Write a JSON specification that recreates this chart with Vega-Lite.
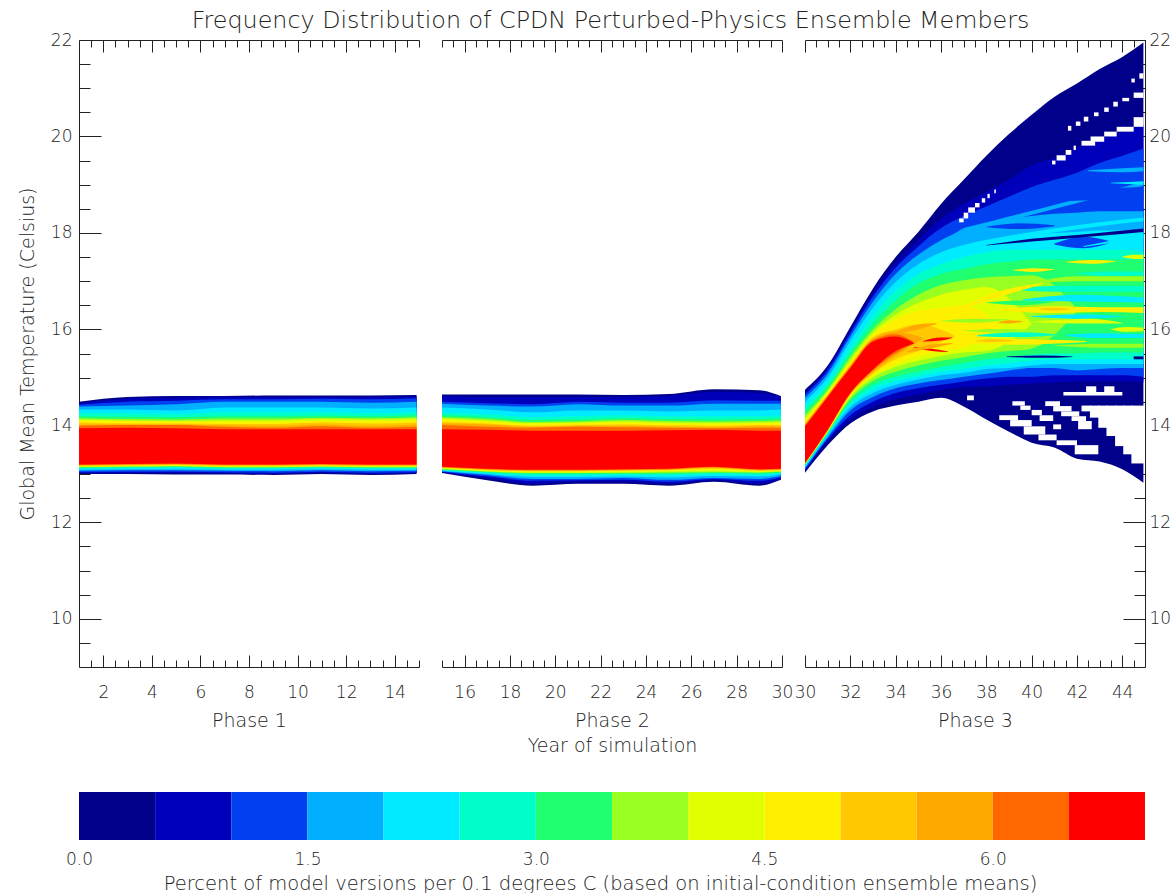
{
"$schema":"https://vega.github.io/schema/vega-lite/v6.json",
"padding":{"left":18,"top":9,"right":0,"bottom":0},
"background":"white",
"title":{"text":"Frequency Distribution of CPDN Perturbed-Physics Ensemble Members","fontSize":23.8,"font":"DejaVu Sans","fontWeight":200,"color":"#222","anchor":"middle","offset":-2,"dx":16},
"config":{"view":{"stroke":null},"axis":{"grid":false,"labelFont":"DejaVu Sans","labelFontSize":17,"labelFontWeight":200,"labelColor":"#222","titleFont":"DejaVu Sans","titleFontSize":19,"titleFontWeight":200,"titleColor":"#222","domainColor":"#222","tickColor":"#222","domainWidth":1,"tickWidth":1,"labelOverlap":false,"labelBound":false,"labelFlush":false}},
"datasets":{
"colors":[{"level":0,"next":0.5},{"level":0.5,"next":1},{"level":1,"next":1.5},{"level":1.5,"next":2},{"level":2,"next":2.5},{"level":2.5,"next":3},{"level":3,"next":3.5},{"level":3.5,"next":4},{"level":4,"next":4.5},{"level":4.5,"next":5},{"level":5,"next":5.5},{"level":5.5,"next":6},{"level":6,"next":6.5},{"level":6.5,"next":7}],
"phase1":[
{"level":0,"year":1,"lo":13.0,"hi":14.5},{"level":0,"year":3,"lo":13.0,"hi":14.6},{"level":0,"year":5,"lo":12.99,"hi":14.62},{"level":0,"year":7,"lo":12.99,"hi":14.62},{"level":0,"year":9,"lo":12.98,"hi":14.63},{"level":0,"year":11,"lo":13.0,"hi":14.63},{"level":0,"year":13,"lo":12.98,"hi":14.63},{"level":0,"year":14.9,"lo":13.0,"hi":14.64},
{"level":0.5,"year":1,"lo":13.02,"hi":14.46},{"level":0.5,"year":3,"lo":13.02,"hi":14.56},{"level":0.5,"year":5,"lo":13.02,"hi":14.58},{"level":0.5,"year":7,"lo":13.01,"hi":14.6},{"level":0.5,"year":9,"lo":13.0,"hi":14.6},{"level":0.5,"year":11,"lo":13.02,"hi":14.6},{"level":0.5,"year":13,"lo":13.0,"hi":14.6},{"level":0.5,"year":14.9,"lo":13.02,"hi":14.61},
{"level":1,"year":1,"lo":13.04,"hi":14.44},{"level":1,"year":3,"lo":13.05,"hi":14.5},{"level":1,"year":5,"lo":13.05,"hi":14.52},{"level":1,"year":7,"lo":13.04,"hi":14.55},{"level":1,"year":9,"lo":13.03,"hi":14.55},{"level":1,"year":11,"lo":13.05,"hi":14.56},{"level":1,"year":13,"lo":13.03,"hi":14.55},{"level":1,"year":14.9,"lo":13.04,"hi":14.57},
{"level":1.5,"year":1,"lo":13.07,"hi":14.4},{"level":1.5,"year":3,"lo":13.08,"hi":14.42},{"level":1.5,"year":5,"lo":13.08,"hi":14.45},{"level":1.5,"year":7,"lo":13.07,"hi":14.5},{"level":1.5,"year":9,"lo":13.06,"hi":14.5},{"level":1.5,"year":11,"lo":13.08,"hi":14.5},{"level":1.5,"year":13,"lo":13.06,"hi":14.48},{"level":1.5,"year":14.9,"lo":13.07,"hi":14.5},
{"level":2,"year":1,"lo":13.09,"hi":14.34},{"level":2,"year":3,"lo":13.1,"hi":14.34},{"level":2,"year":5,"lo":13.1,"hi":14.32},{"level":2,"year":7,"lo":13.09,"hi":14.38},{"level":2,"year":9,"lo":13.09,"hi":14.38},{"level":2,"year":11,"lo":13.1,"hi":14.38},{"level":2,"year":13,"lo":13.09,"hi":14.36},{"level":2,"year":14.9,"lo":13.09,"hi":14.38},
{"level":2.5,"year":1,"lo":13.11,"hi":14.26},{"level":2.5,"year":3,"lo":13.12,"hi":14.26},{"level":2.5,"year":5,"lo":13.13,"hi":14.24},{"level":2.5,"year":7,"lo":13.11,"hi":14.28},{"level":2.5,"year":9,"lo":13.11,"hi":14.28},{"level":2.5,"year":11,"lo":13.12,"hi":14.28},{"level":2.5,"year":13,"lo":13.11,"hi":14.26},{"level":2.5,"year":14.9,"lo":13.11,"hi":14.28},
{"level":3,"year":1,"lo":13.13,"hi":14.2},{"level":3,"year":3,"lo":13.14,"hi":14.19},{"level":3,"year":5,"lo":13.15,"hi":14.18},{"level":3,"year":7,"lo":13.13,"hi":14.2},{"level":3,"year":9,"lo":13.13,"hi":14.2},{"level":3,"year":11,"lo":13.14,"hi":14.21},{"level":3,"year":13,"lo":13.13,"hi":14.2},{"level":3,"year":14.9,"lo":13.13,"hi":14.22},
{"level":3.5,"year":1,"lo":13.14,"hi":14.16},{"level":3.5,"year":3,"lo":13.15,"hi":14.14},{"level":3.5,"year":5,"lo":13.16,"hi":14.13},{"level":3.5,"year":7,"lo":13.14,"hi":14.15},{"level":3.5,"year":9,"lo":13.14,"hi":14.15},{"level":3.5,"year":11,"lo":13.15,"hi":14.17},{"level":3.5,"year":13,"lo":13.14,"hi":14.16},{"level":3.5,"year":14.9,"lo":13.14,"hi":14.18},
{"level":4,"year":1,"lo":13.15,"hi":14.13},{"level":4,"year":3,"lo":13.16,"hi":14.11},{"level":4,"year":5,"lo":13.17,"hi":14.1},{"level":4,"year":7,"lo":13.15,"hi":14.11},{"level":4,"year":9,"lo":13.15,"hi":14.11},{"level":4,"year":11,"lo":13.16,"hi":14.14},{"level":4,"year":13,"lo":13.15,"hi":14.13},{"level":4,"year":14.9,"lo":13.15,"hi":14.15},
{"level":4.5,"year":1,"lo":13.16,"hi":14.1},{"level":4.5,"year":3,"lo":13.17,"hi":14.09},{"level":4.5,"year":5,"lo":13.18,"hi":14.08},{"level":4.5,"year":7,"lo":13.16,"hi":14.08},{"level":4.5,"year":9,"lo":13.16,"hi":14.07},{"level":4.5,"year":11,"lo":13.17,"hi":14.1},{"level":4.5,"year":13,"lo":13.16,"hi":14.09},{"level":4.5,"year":14.9,"lo":13.16,"hi":14.11},
{"level":5,"year":1,"lo":13.17,"hi":14.07},{"level":5,"year":3,"lo":13.18,"hi":14.05},{"level":5,"year":5,"lo":13.19,"hi":14.05},{"level":5,"year":7,"lo":13.17,"hi":14.04},{"level":5,"year":9,"lo":13.17,"hi":14.04},{"level":5,"year":11,"lo":13.18,"hi":14.07},{"level":5,"year":13,"lo":13.17,"hi":14.05},{"level":5,"year":14.9,"lo":13.17,"hi":14.07},
{"level":5.5,"year":1,"lo":13.18,"hi":14.03},{"level":5.5,"year":3,"lo":13.19,"hi":14.03},{"level":5.5,"year":5,"lo":13.2,"hi":14.03},{"level":5.5,"year":7,"lo":13.18,"hi":14.01},{"level":5.5,"year":9,"lo":13.18,"hi":14.0},{"level":5.5,"year":11,"lo":13.19,"hi":14.03},{"level":5.5,"year":13,"lo":13.18,"hi":14.0},{"level":5.5,"year":14.9,"lo":13.18,"hi":14.03},
{"level":6,"year":1,"lo":13.19,"hi":14.0},{"level":6,"year":3,"lo":13.2,"hi":14.02},{"level":6,"year":5,"lo":13.21,"hi":14.02},{"level":6,"year":7,"lo":13.19,"hi":13.98},{"level":6,"year":9,"lo":13.19,"hi":13.96},{"level":6,"year":11,"lo":13.2,"hi":13.99},{"level":6,"year":13,"lo":13.19,"hi":13.96},{"level":6,"year":14.9,"lo":13.19,"hi":13.98},
{"level":6.5,"year":1,"lo":13.2,"hi":13.95},{"level":6.5,"year":3,"lo":13.21,"hi":13.96},{"level":6.5,"year":5,"lo":13.22,"hi":13.95},{"level":6.5,"year":7,"lo":13.2,"hi":13.93},{"level":6.5,"year":9,"lo":13.2,"hi":13.93},{"level":6.5,"year":11,"lo":13.21,"hi":13.93},{"level":6.5,"year":13,"lo":13.2,"hi":13.93},{"level":6.5,"year":14.9,"lo":13.2,"hi":13.93}
],
"phase2":[
{"level":0,"year":15,"lo":13.02,"hi":14.65},{"level":0,"year":17,"lo":12.87,"hi":14.65},{"level":0,"year":19,"lo":12.76,"hi":14.65},{"level":0,"year":21,"lo":12.8,"hi":14.65},{"level":0,"year":23,"lo":12.8,"hi":14.64},{"level":0,"year":25,"lo":12.76,"hi":14.66},{"level":0,"year":27,"lo":12.84,"hi":14.76},{"level":0,"year":29,"lo":12.76,"hi":14.74},{"level":0,"year":29.95,"lo":12.88,"hi":14.62},
{"level":0.5,"year":15,"lo":13.04,"hi":14.62},{"level":0.5,"year":17,"lo":12.92,"hi":14.6},{"level":0.5,"year":19,"lo":12.8,"hi":14.6},{"level":0.5,"year":21,"lo":12.84,"hi":14.6},{"level":0.5,"year":23,"lo":12.84,"hi":14.6},{"level":0.5,"year":25,"lo":12.8,"hi":14.62},{"level":0.5,"year":27,"lo":12.87,"hi":14.7},{"level":0.5,"year":29,"lo":12.8,"hi":14.68},{"level":0.5,"year":29.95,"lo":12.9,"hi":14.6},
{"level":1,"year":15,"lo":13.05,"hi":14.5},{"level":1,"year":17,"lo":12.95,"hi":14.47},{"level":1,"year":19,"lo":12.86,"hi":14.45},{"level":1,"year":21,"lo":12.87,"hi":14.5},{"level":1,"year":23,"lo":12.88,"hi":14.48},{"level":1,"year":25,"lo":12.84,"hi":14.48},{"level":1,"year":27,"lo":12.9,"hi":14.53},{"level":1,"year":29,"lo":12.86,"hi":14.52},{"level":1,"year":29.95,"lo":12.93,"hi":14.52},
{"level":1.5,"year":15,"lo":13.06,"hi":14.46},{"level":1.5,"year":17,"lo":12.98,"hi":14.42},{"level":1.5,"year":19,"lo":12.9,"hi":14.4},{"level":1.5,"year":21,"lo":12.9,"hi":14.45},{"level":1.5,"year":23,"lo":12.92,"hi":14.42},{"level":1.5,"year":25,"lo":12.88,"hi":14.42},{"level":1.5,"year":27,"lo":12.92,"hi":14.46},{"level":1.5,"year":29,"lo":12.9,"hi":14.46},{"level":1.5,"year":29.95,"lo":12.96,"hi":14.46},
{"level":2,"year":15,"lo":13.07,"hi":14.38},{"level":2,"year":17,"lo":13.0,"hi":14.34},{"level":2,"year":19,"lo":12.94,"hi":14.28},{"level":2,"year":21,"lo":12.94,"hi":14.32},{"level":2,"year":23,"lo":12.95,"hi":14.32},{"level":2,"year":25,"lo":12.93,"hi":14.3},{"level":2,"year":27,"lo":12.96,"hi":14.32},{"level":2,"year":29,"lo":12.95,"hi":14.32},{"level":2,"year":29.95,"lo":12.99,"hi":14.34},
{"level":2.5,"year":15,"lo":13.08,"hi":14.27},{"level":2.5,"year":17,"lo":13.02,"hi":14.24},{"level":2.5,"year":19,"lo":12.97,"hi":14.18},{"level":2.5,"year":21,"lo":12.97,"hi":14.2},{"level":2.5,"year":23,"lo":12.98,"hi":14.22},{"level":2.5,"year":25,"lo":12.97,"hi":14.2},{"level":2.5,"year":27,"lo":12.99,"hi":14.2},{"level":2.5,"year":29,"lo":12.98,"hi":14.2},{"level":2.5,"year":29.95,"lo":13.01,"hi":14.22},
{"level":3,"year":15,"lo":13.09,"hi":14.22},{"level":3,"year":17,"lo":13.04,"hi":14.18},{"level":3,"year":19,"lo":13.0,"hi":14.12},{"level":3,"year":21,"lo":13.0,"hi":14.13},{"level":3,"year":23,"lo":13.0,"hi":14.16},{"level":3,"year":25,"lo":13.0,"hi":14.14},{"level":3,"year":27,"lo":13.02,"hi":14.13},{"level":3,"year":29,"lo":13.01,"hi":14.14},{"level":3,"year":29.95,"lo":13.03,"hi":14.15},
{"level":3.5,"year":15,"lo":13.1,"hi":14.18},{"level":3.5,"year":17,"lo":13.05,"hi":14.14},{"level":3.5,"year":19,"lo":13.02,"hi":14.08},{"level":3.5,"year":21,"lo":13.02,"hi":14.09},{"level":3.5,"year":23,"lo":13.02,"hi":14.12},{"level":3.5,"year":25,"lo":13.03,"hi":14.1},{"level":3.5,"year":27,"lo":13.04,"hi":14.09},{"level":3.5,"year":29,"lo":13.03,"hi":14.1},{"level":3.5,"year":29.95,"lo":13.05,"hi":14.11},
{"level":4,"year":15,"lo":13.11,"hi":14.15},{"level":4,"year":17,"lo":13.06,"hi":14.11},{"level":4,"year":19,"lo":13.03,"hi":14.06},{"level":4,"year":21,"lo":13.03,"hi":14.07},{"level":4,"year":23,"lo":13.04,"hi":14.09},{"level":4,"year":25,"lo":13.05,"hi":14.07},{"level":4,"year":27,"lo":13.06,"hi":14.06},{"level":4,"year":29,"lo":13.04,"hi":14.07},{"level":4,"year":29.95,"lo":13.06,"hi":14.08},
{"level":4.5,"year":15,"lo":13.12,"hi":14.12},{"level":4.5,"year":17,"lo":13.07,"hi":14.08},{"level":4.5,"year":19,"lo":13.05,"hi":14.03},{"level":4.5,"year":21,"lo":13.05,"hi":14.05},{"level":4.5,"year":23,"lo":13.06,"hi":14.06},{"level":4.5,"year":25,"lo":13.07,"hi":14.04},{"level":4.5,"year":27,"lo":13.09,"hi":14.03},{"level":4.5,"year":29,"lo":13.06,"hi":14.05},{"level":4.5,"year":29.95,"lo":13.07,"hi":14.05},
{"level":5,"year":15,"lo":13.13,"hi":14.08},{"level":5,"year":17,"lo":13.08,"hi":14.05},{"level":5,"year":19,"lo":13.06,"hi":14.0},{"level":5,"year":21,"lo":13.06,"hi":14.02},{"level":5,"year":23,"lo":13.07,"hi":14.03},{"level":5,"year":25,"lo":13.08,"hi":14.01},{"level":5,"year":27,"lo":13.11,"hi":14.0},{"level":5,"year":29,"lo":13.07,"hi":14.02},{"level":5,"year":29.95,"lo":13.08,"hi":14.02},
{"level":5.5,"year":15,"lo":13.14,"hi":14.05},{"level":5.5,"year":17,"lo":13.09,"hi":14.03},{"level":5.5,"year":19,"lo":13.07,"hi":13.98},{"level":5.5,"year":21,"lo":13.07,"hi":14.0},{"level":5.5,"year":23,"lo":13.08,"hi":14.0},{"level":5.5,"year":25,"lo":13.09,"hi":13.98},{"level":5.5,"year":27,"lo":13.13,"hi":13.97},{"level":5.5,"year":29,"lo":13.08,"hi":13.99},{"level":5.5,"year":29.95,"lo":13.09,"hi":13.99},
{"level":6,"year":15,"lo":13.14,"hi":14.02},{"level":6,"year":17,"lo":13.1,"hi":13.98},{"level":6,"year":19,"lo":13.08,"hi":13.96},{"level":6,"year":21,"lo":13.08,"hi":13.98},{"level":6,"year":23,"lo":13.09,"hi":13.97},{"level":6,"year":25,"lo":13.1,"hi":13.96},{"level":6,"year":27,"lo":13.14,"hi":13.95},{"level":6,"year":29,"lo":13.09,"hi":13.96},{"level":6,"year":29.95,"lo":13.1,"hi":13.96},
{"level":6.5,"year":15,"lo":13.15,"hi":13.93},{"level":6.5,"year":17,"lo":13.11,"hi":13.92},{"level":6.5,"year":19,"lo":13.09,"hi":13.9},{"level":6.5,"year":21,"lo":13.09,"hi":13.9},{"level":6.5,"year":23,"lo":13.1,"hi":13.9},{"level":6.5,"year":25,"lo":13.11,"hi":13.91},{"level":6.5,"year":27,"lo":13.15,"hi":13.92},{"level":6.5,"year":29,"lo":13.1,"hi":13.9},{"level":6.5,"year":29.95,"lo":13.11,"hi":13.9}
],
"phase3":[
{"level":0,"year":30,"lo":13.03,"hi":14.75},{"level":0,"year":31,"lo":13.6,"hi":15.25},{"level":0,"year":32,"lo":14.05,"hi":16.05},{"level":0,"year":33,"lo":14.3,"hi":16.85},{"level":0,"year":34,"lo":14.42,"hi":17.5},{"level":0,"year":35,"lo":14.5,"hi":18.02},{"level":0,"year":36,"lo":14.58,"hi":18.6},{"level":0,"year":37,"lo":14.4,"hi":19.1},{"level":0,"year":38,"lo":14.13,"hi":19.6},{"level":0,"year":39,"lo":13.88,"hi":20.05},{"level":0,"year":40,"lo":13.65,"hi":20.45},{"level":0,"year":41,"lo":13.55,"hi":20.82},{"level":0,"year":42,"lo":13.32,"hi":21.1},{"level":0,"year":43,"lo":13.26,"hi":21.4},{"level":0,"year":44,"lo":13.1,"hi":21.65},{"level":0,"year":44.93,"lo":12.82,"hi":21.95},
{"level":0.5,"year":30,"lo":13.06,"hi":14.7},{"level":0.5,"year":31,"lo":13.68,"hi":15.2},{"level":0.5,"year":32,"lo":14.12,"hi":15.98},{"level":0.5,"year":33,"lo":14.4,"hi":16.75},{"level":0.5,"year":34,"lo":14.55,"hi":17.38},{"level":0.5,"year":35,"lo":14.65,"hi":17.85},{"level":0.5,"year":36,"lo":14.75,"hi":18.3},{"level":0.5,"year":37,"lo":14.8,"hi":18.6},{"level":0.5,"year":38,"lo":14.82,"hi":18.85},{"level":0.5,"year":39,"lo":14.85,"hi":19.1},{"level":0.5,"year":40,"lo":14.88,"hi":19.4},{"level":0.5,"year":41,"lo":14.9,"hi":19.55},{"level":0.5,"year":42,"lo":14.92,"hi":19.75},{"level":0.5,"year":43,"lo":14.92,"hi":19.95},{"level":0.5,"year":44,"lo":14.92,"hi":20.1},{"level":0.5,"year":44.93,"lo":14.9,"hi":20.25},
{"level":1,"year":30,"lo":13.09,"hi":14.65},{"level":1,"year":31,"lo":13.72,"hi":15.15},{"level":1,"year":32,"lo":14.22,"hi":15.92},{"level":1,"year":33,"lo":14.5,"hi":16.68},{"level":1,"year":34,"lo":14.68,"hi":17.28},{"level":1,"year":35,"lo":14.78,"hi":17.72},{"level":1,"year":36,"lo":14.85,"hi":18.1},{"level":1,"year":37,"lo":14.92,"hi":18.35},{"level":1,"year":38,"lo":14.98,"hi":18.55},{"level":1,"year":39,"lo":15.02,"hi":18.75},{"level":1,"year":40,"lo":15.02,"hi":18.95},{"level":1,"year":41,"lo":15.05,"hi":19.1},{"level":1,"year":42,"lo":15.05,"hi":19.25},{"level":1,"year":43,"lo":15.05,"hi":19.45},{"level":1,"year":44,"lo":15.05,"hi":19.6},{"level":1,"year":44.93,"lo":15.02,"hi":19.75},
{"level":1.5,"year":30,"lo":13.12,"hi":14.58},{"level":1.5,"year":31,"lo":13.76,"hi":15.08},{"level":1.5,"year":32,"lo":14.32,"hi":15.85},{"level":1.5,"year":33,"lo":14.6,"hi":16.58},{"level":1.5,"year":34,"lo":14.78,"hi":17.15},{"level":1.5,"year":35,"lo":14.88,"hi":17.55},{"level":1.5,"year":36,"lo":14.95,"hi":17.85},{"level":1.5,"year":37,"lo":15.02,"hi":18.05},{"level":1.5,"year":38,"lo":15.08,"hi":18.2},{"level":1.5,"year":39,"lo":15.15,"hi":18.3},{"level":1.5,"year":40,"lo":15.2,"hi":18.35},{"level":1.5,"year":41,"lo":15.2,"hi":18.4},{"level":1.5,"year":42,"lo":15.15,"hi":18.42},{"level":1.5,"year":43,"lo":15.18,"hi":18.45},{"level":1.5,"year":44,"lo":15.2,"hi":18.45},{"level":1.5,"year":44.93,"lo":15.2,"hi":18.45},
{"level":2,"year":30,"lo":13.14,"hi":14.5},{"level":2,"year":31,"lo":13.8,"hi":15.0},{"level":2,"year":32,"lo":14.38,"hi":15.76},{"level":2,"year":33,"lo":14.68,"hi":16.45},{"level":2,"year":34,"lo":14.85,"hi":16.98},{"level":2,"year":35,"lo":14.96,"hi":17.35},{"level":2,"year":36,"lo":15.05,"hi":17.6},{"level":2,"year":37,"lo":15.1,"hi":17.75},{"level":2,"year":38,"lo":15.18,"hi":17.85},{"level":2,"year":39,"lo":15.2,"hi":17.9},{"level":2,"year":40,"lo":15.25,"hi":17.95},{"level":2,"year":41,"lo":15.28,"hi":18.0},{"level":2,"year":42,"lo":15.28,"hi":18.02},{"level":2,"year":43,"lo":15.28,"hi":18.05},{"level":2,"year":44,"lo":15.28,"hi":18.05},{"level":2,"year":44.93,"lo":15.28,"hi":18.05},
{"level":2.5,"year":30,"lo":13.17,"hi":14.4},{"level":2.5,"year":31,"lo":13.83,"hi":14.9},{"level":2.5,"year":32,"lo":14.43,"hi":15.62},{"level":2.5,"year":33,"lo":14.76,"hi":16.28},{"level":2.5,"year":34,"lo":14.93,"hi":16.8},{"level":2.5,"year":35,"lo":15.03,"hi":17.15},{"level":2.5,"year":36,"lo":15.12,"hi":17.35},{"level":2.5,"year":37,"lo":15.18,"hi":17.5},{"level":2.5,"year":38,"lo":15.25,"hi":17.6},{"level":2.5,"year":39,"lo":15.3,"hi":17.65},{"level":2.5,"year":40,"lo":15.35,"hi":17.65},{"level":2.5,"year":41,"lo":15.38,"hi":17.65},{"level":2.5,"year":42,"lo":15.38,"hi":17.65},{"level":2.5,"year":43,"lo":15.38,"hi":17.65},{"level":2.5,"year":44,"lo":15.38,"hi":17.65},{"level":2.5,"year":44.93,"lo":15.38,"hi":17.6},
{"level":3,"year":30,"lo":13.19,"hi":14.3},{"level":3,"year":31,"lo":13.85,"hi":14.82},{"level":3,"year":32,"lo":14.5,"hi":15.5},{"level":3,"year":33,"lo":14.85,"hi":16.12},{"level":3,"year":34,"lo":15.02,"hi":16.6},{"level":3,"year":35,"lo":15.12,"hi":16.95},{"level":3,"year":36,"lo":15.22,"hi":17.15},{"level":3,"year":37,"lo":15.3,"hi":17.25},{"level":3,"year":38,"lo":15.38,"hi":17.35},{"level":3,"year":39,"lo":15.42,"hi":17.4},{"level":3,"year":40,"lo":15.48,"hi":17.45},{"level":3,"year":41,"lo":15.5,"hi":17.45},{"level":3,"year":42,"lo":15.5,"hi":17.45},{"level":3,"year":43,"lo":15.52,"hi":17.45},{"level":3,"year":44,"lo":15.52,"hi":17.45},{"level":3,"year":44.93,"lo":15.52,"hi":17.45},
{"level":3.5,"year":30,"lo":13.2,"hi":14.22},{"level":3.5,"year":31,"lo":13.87,"hi":14.75},{"level":3.5,"year":32,"lo":14.55,"hi":15.43},{"level":3.5,"year":33,"lo":14.93,"hi":16.0},{"level":3.5,"year":34,"lo":15.12,"hi":16.42},{"level":3.5,"year":35,"lo":15.25,"hi":16.72},{"level":3.5,"year":36,"lo":15.35,"hi":16.92},{"level":3.5,"year":37,"lo":15.42,"hi":17.02},{"level":3.5,"year":38,"lo":15.5,"hi":17.08},{"level":3.5,"year":39,"lo":15.55,"hi":17.1},{"level":3.5,"year":40,"lo":15.6,"hi":17.12},{"level":3.5,"year":42,"lo":16.38,"hi":16.42},
{"level":4,"year":30,"lo":13.21,"hi":14.15},{"level":4,"year":31,"lo":13.88,"hi":14.72},{"level":4,"year":32,"lo":14.6,"hi":15.36},{"level":4,"year":33,"lo":15.0,"hi":15.94},{"level":4,"year":34,"lo":15.22,"hi":16.3},{"level":4,"year":35,"lo":15.35,"hi":16.55},{"level":4,"year":36,"lo":15.45,"hi":16.72},{"level":4,"year":37,"lo":15.52,"hi":16.82},{"level":4,"year":38,"lo":15.55,"hi":16.88},{"level":4,"year":40,"lo":16.1,"hi":16.12},
{"level":4.5,"year":30,"lo":13.22,"hi":14.1},{"level":4.5,"year":31,"lo":13.89,"hi":14.68},{"level":4.5,"year":32,"lo":14.62,"hi":15.3},{"level":4.5,"year":33,"lo":15.05,"hi":15.88},{"level":4.5,"year":34,"lo":15.28,"hi":16.2},{"level":4.5,"year":35,"lo":15.45,"hi":16.38},{"level":4.5,"year":36,"lo":15.55,"hi":16.45},{"level":4.5,"year":37,"lo":15.62,"hi":16.5},{"level":4.5,"year":38.6,"lo":16.05,"hi":16.07},
{"level":5,"year":30,"lo":13.22,"hi":14.06},{"level":5,"year":31,"lo":13.9,"hi":14.65},{"level":5,"year":32,"lo":14.64,"hi":15.27},{"level":5,"year":33,"lo":15.08,"hi":15.84},{"level":5,"year":34,"lo":15.38,"hi":16.0},{"level":5,"year":35,"lo":15.55,"hi":16.1},{"level":5,"year":36.6,"lo":15.85,"hi":15.87},
{"level":5.5,"year":30,"lo":13.23,"hi":14.03},{"level":5.5,"year":31,"lo":13.91,"hi":14.63},{"level":5.5,"year":32,"lo":14.66,"hi":15.24},{"level":5.5,"year":33,"lo":15.12,"hi":15.8},{"level":5.5,"year":34,"lo":15.45,"hi":15.95},{"level":5.5,"year":35.2,"lo":15.8,"hi":15.82},
{"level":6,"year":30,"lo":13.23,"hi":14.01},{"level":6,"year":31,"lo":13.91,"hi":14.62},{"level":6,"year":32,"lo":14.67,"hi":15.22},{"level":6,"year":33,"lo":15.15,"hi":15.78},{"level":6,"year":34,"lo":15.5,"hi":15.9},{"level":6,"year":34.8,"lo":15.72,"hi":15.74},
{"level":6.5,"year":30,"lo":13.23,"hi":13.99},{"level":6.5,"year":31,"lo":13.92,"hi":14.6},{"level":6.5,"year":32,"lo":14.68,"hi":15.2},{"level":6.5,"year":33,"lo":15.17,"hi":15.75},{"level":6.5,"year":34,"lo":15.55,"hi":15.85},{"level":6.5,"year":34.8,"lo":15.7,"hi":15.72}
],
"streaks":[
{"streak":"ap","level":3.5,"year":36,"lo":16.17,"hi":16.18},{"streak":"ap","level":3.5,"year":37.5,"lo":16.14,"hi":16.22},{"streak":"ap","level":3.5,"year":39,"lo":16.2,"hi":16.21},
{"streak":"aq","level":3.5,"year":37,"lo":15.97,"hi":15.98},{"streak":"aq","level":3.5,"year":38.5,"lo":15.93,"hi":16.01},{"streak":"aq","level":3.5,"year":40,"lo":15.98,"hi":15.99},
{"streak":"ar","level":3,"year":38,"lo":16.55,"hi":16.56},{"streak":"ar","level":3,"year":39.5,"lo":16.5,"hi":16.6},{"streak":"ar","level":3,"year":41,"lo":16.57,"hi":16.58},
{"streak":"aa","level":2.5,"year":39,"lo":16.82,"hi":16.84},{"streak":"aa","level":2.5,"year":41,"lo":16.78,"hi":16.9},{"streak":"aa","level":2.5,"year":44.93,"lo":16.78,"hi":16.9},
{"streak":"ab","level":2,"year":40,"lo":16.26,"hi":16.28},{"streak":"ab","level":2,"year":42,"lo":16.22,"hi":16.31},{"streak":"ab","level":2,"year":44,"lo":16.26,"hi":16.28},
{"streak":"ag","level":2.5,"year":42,"lo":17.16,"hi":17.17},{"streak":"ag","level":2.5,"year":43.5,"lo":17.1,"hi":17.2},{"streak":"ag","level":2.5,"year":44.93,"lo":17.12,"hi":17.2},
{"streak":"ac","level":3.5,"year":41,"lo":15.66,"hi":15.67},{"streak":"ac","level":3.5,"year":43,"lo":15.62,"hi":15.7},{"streak":"ac","level":3.5,"year":44.93,"lo":15.62,"hi":15.7},
{"streak":"a","level":6.5,"year":35.2,"lo":15.75,"hi":15.76},{"streak":"a","level":6.5,"year":36,"lo":15.77,"hi":15.83},{"streak":"a","level":6.5,"year":36.5,"lo":15.82,"hi":15.83},
{"streak":"b","level":6.5,"year":34.8,"lo":15.62,"hi":15.63},{"streak":"b","level":6.5,"year":35.6,"lo":15.55,"hi":15.6},{"streak":"b","level":6.5,"year":36.3,"lo":15.53,"hi":15.54},
{"streak":"c","level":5.5,"year":34,"lo":15.92,"hi":15.94},{"streak":"c","level":5.5,"year":35,"lo":16.0,"hi":16.1},{"streak":"c","level":5.5,"year":35.8,"lo":16.11,"hi":16.13},
{"streak":"d","level":5.5,"year":34.5,"lo":15.53,"hi":15.55},{"streak":"d","level":5.5,"year":35.5,"lo":15.6,"hi":15.68},{"streak":"d","level":5.5,"year":36.5,"lo":15.7,"hi":15.72},
{"streak":"e","level":4.5,"year":36.4,"lo":16.33,"hi":16.35},{"streak":"e","level":4.5,"year":38.5,"lo":16.66,"hi":16.78},{"streak":"e","level":4.5,"year":40.5,"lo":16.94,"hi":16.96},
{"streak":"f","level":4.5,"year":38.5,"lo":16.39,"hi":16.41},{"streak":"f","level":4.5,"year":41,"lo":16.34,"hi":16.48},{"streak":"f","level":4.5,"year":43,"lo":16.36,"hi":16.46},{"streak":"f","level":4.5,"year":44.93,"lo":16.34,"hi":16.46},
{"streak":"g","level":5.5,"year":38.5,"lo":16.13,"hi":16.14},{"streak":"g","level":5.5,"year":39,"lo":16.12,"hi":16.19},{"streak":"g","level":5.5,"year":39.6,"lo":16.16,"hi":16.17},
{"streak":"h","level":4.5,"year":36.5,"lo":15.71,"hi":15.73},{"streak":"h","level":4.5,"year":39,"lo":15.68,"hi":15.8},{"streak":"h","level":4.5,"year":42.4,"lo":15.74,"hi":15.76},
{"streak":"ae","level":5,"year":37.5,"lo":15.76,"hi":15.77},{"streak":"ae","level":5,"year":38.3,"lo":15.74,"hi":15.8},{"streak":"ae","level":5,"year":39.2,"lo":15.76,"hi":15.77},
{"streak":"af","level":5,"year":40.3,"lo":16.42,"hi":16.43},{"streak":"af","level":5,"year":41,"lo":16.39,"hi":16.45},{"streak":"af","level":5,"year":41.7,"lo":16.42,"hi":16.43},
{"streak":"i","level":4,"year":43.5,"lo":16.0,"hi":16.01},{"streak":"i","level":4,"year":44.2,"lo":15.95,"hi":16.05},{"streak":"i","level":4,"year":44.93,"lo":15.96,"hi":16.04},
{"streak":"j","level":2,"year":39.6,"lo":16.6,"hi":16.62},{"streak":"j","level":2,"year":42,"lo":16.58,"hi":16.72},{"streak":"j","level":2,"year":44.93,"lo":16.56,"hi":16.66},
{"streak":"k","level":2,"year":41.5,"lo":15.87,"hi":15.89},{"streak":"k","level":2,"year":43,"lo":15.82,"hi":15.92},{"streak":"k","level":2,"year":44.93,"lo":15.82,"hi":15.9},
{"streak":"l","level":2.5,"year":37.6,"lo":15.86,"hi":15.88},{"streak":"l","level":2.5,"year":39.5,"lo":15.84,"hi":15.94},{"streak":"l","level":2.5,"year":41,"lo":15.88,"hi":15.9},
{"streak":"m","level":4,"year":40,"lo":16.15,"hi":16.16},{"streak":"m","level":4,"year":42.5,"lo":16.12,"hi":16.22},{"streak":"m","level":4,"year":44,"lo":16.12,"hi":16.14},
{"streak":"n","level":3.5,"year":40,"lo":16.95,"hi":16.97},{"streak":"n","level":3.5,"year":42,"lo":17.0,"hi":17.1},{"streak":"n","level":3.5,"year":44.93,"lo":17.0,"hi":17.1},
{"streak":"o","level":4.5,"year":39.2,"lo":17.22,"hi":17.23},{"streak":"o","level":4.5,"year":40,"lo":17.19,"hi":17.27},{"streak":"o","level":4.5,"year":41,"lo":17.24,"hi":17.25},
{"streak":"p","level":4.5,"year":41.5,"lo":17.39,"hi":17.4},{"streak":"p","level":4.5,"year":42.6,"lo":17.36,"hi":17.44},{"streak":"p","level":4.5,"year":43.7,"lo":17.41,"hi":17.42},
{"streak":"q","level":4,"year":44,"lo":17.5,"hi":17.51},{"streak":"q","level":4,"year":44.5,"lo":17.46,"hi":17.55},{"streak":"q","level":4,"year":44.93,"lo":17.46,"hi":17.55},
{"streak":"an","level":1,"year":38,"lo":18.12,"hi":18.13},{"streak":"an","level":1,"year":39.5,"lo":18.08,"hi":18.2},{"streak":"an","level":1,"year":41,"lo":18.14,"hi":18.16},
{"streak":"ao","level":1,"year":41,"lo":17.76,"hi":17.78},{"streak":"ao","level":1,"year":42.3,"lo":17.68,"hi":17.92},{"streak":"ao","level":1,"year":43.5,"lo":17.8,"hi":17.82},
{"streak":"r","level":2,"year":35.6,"lo":17.49,"hi":17.51},{"streak":"r","level":2,"year":37,"lo":17.66,"hi":17.74},{"streak":"r","level":2,"year":40,"lo":17.94,"hi":18.02},{"streak":"r","level":2,"year":43,"lo":18.14,"hi":18.22},{"streak":"r","level":2,"year":44.93,"lo":18.24,"hi":18.32},
{"streak":"s","level":1.5,"year":37,"lo":18.02,"hi":18.1},{"streak":"s","level":1.5,"year":41.5,"lo":18.56,"hi":18.64},{"streak":"s","level":1.5,"year":44.93,"lo":18.98,"hi":19.06},
{"streak":"t","level":1.5,"year":34.7,"lo":17.43,"hi":17.45},{"streak":"t","level":1.5,"year":37,"lo":18.02,"hi":18.1},
{"streak":"u","level":0,"year":38,"lo":17.74,"hi":17.75},{"streak":"u","level":0,"year":40,"lo":17.82,"hi":17.88},{"streak":"u","level":0,"year":42.5,"lo":17.92,"hi":17.98},{"streak":"u","level":0,"year":44.93,"lo":18.02,"hi":18.09},
{"streak":"v","level":2,"year":42.3,"lo":17.71,"hi":17.73},{"streak":"v","level":2,"year":44.93,"lo":17.89,"hi":17.97},
{"streak":"w","level":1,"year":38,"lo":18.38,"hi":18.4},{"streak":"w","level":1,"year":41,"lo":18.65,"hi":18.85},{"streak":"w","level":1,"year":44.93,"lo":18.7,"hi":18.95},
{"streak":"aj","level":2,"year":43.5,"lo":19.03,"hi":19.04},{"streak":"aj","level":2,"year":44.93,"lo":19.0,"hi":19.07},
{"streak":"ak","level":1.5,"year":42.5,"lo":19.28,"hi":19.3},{"streak":"ak","level":1.5,"year":44,"lo":19.26,"hi":19.34},{"streak":"ak","level":1.5,"year":44.93,"lo":19.28,"hi":19.36},
{"streak":"x","level":0,"year":38.9,"lo":15.43,"hi":15.44},{"streak":"x","level":0,"year":40.4,"lo":15.41,"hi":15.46},{"streak":"x","level":0,"year":41.8,"lo":15.43,"hi":15.44},
{"streak":"y","level":0,"year":44.5,"lo":15.38,"hi":15.44},{"streak":"y","level":0,"year":44.93,"lo":15.38,"hi":15.44}
],
"gaps":[
{"from":42.2,"to":42.8,"lo":19.81,"hi":19.91},{"from":42.6,"to":43.2,"lo":19.89,"hi":20.0},{"from":43.2,"to":43.75,"lo":20.0,"hi":20.1},{"from":43.75,"to":44.5,"lo":20.1,"hi":20.2},{"from":44.5,"to":44.93,"lo":20.2,"hi":20.4},{"from":44.5,"to":44.93,"lo":20.8,"hi":20.91},{"from":44,"to":44.3,"lo":20.73,"hi":20.8},{"from":43.6,"to":43.8,"lo":20.62,"hi":20.72},{"from":43.2,"to":43.4,"lo":20.51,"hi":20.6},{"from":42.75,"to":42.95,"lo":20.42,"hi":20.5},{"from":42.3,"to":42.5,"lo":20.31,"hi":20.41},{"from":41.95,"to":42.15,"lo":20.22,"hi":20.31},{"from":41.6,"to":41.75,"lo":20.12,"hi":20.22},{"from":44.75,"to":44.93,"lo":21.2,"hi":21.31},{"from":44.4,"to":44.55,"lo":21.12,"hi":21.2},{"from":41.85,"to":41.95,"lo":19.72,"hi":19.81},{"from":41.5,"to":41.75,"lo":19.62,"hi":19.72},{"from":41.1,"to":41.5,"lo":19.5,"hi":19.61},{"from":40.9,"to":41.05,"lo":19.42,"hi":19.5},{"from":36.8,"to":37,"lo":18.22,"hi":18.3},{"from":37,"to":37.2,"lo":18.3,"hi":18.42},{"from":37.2,"to":37.5,"lo":18.42,"hi":18.53},{"from":37.5,"to":37.7,"lo":18.53,"hi":18.62},{"from":37.8,"to":37.95,"lo":18.63,"hi":18.72},{"from":38.05,"to":38.15,"lo":18.72,"hi":18.81},{"from":38.35,"to":38.42,"lo":18.82,"hi":18.9},
{"from":42.2,"to":42.62,"lo":14.3,"hi":14.42},{"from":42.57,"to":43,"lo":14.17,"hi":14.42},{"from":42.94,"to":43.35,"lo":13.96,"hi":14.42},{"from":43.3,"to":43.73,"lo":13.79,"hi":14.42},{"from":43.68,"to":44.09,"lo":13.58,"hi":14.42},{"from":44.04,"to":44.45,"lo":13.41,"hi":14.42},{"from":44.4,"to":45,"lo":13.22,"hi":14.42},
{"from":40.6,"to":41.25,"lo":14.41,"hi":14.51},{"from":40.95,"to":41.76,"lo":14.3,"hi":14.41},{"from":41.3,"to":42.1,"lo":14.2,"hi":14.3},{"from":41.76,"to":42.4,"lo":14.1,"hi":14.2},{"from":42.05,"to":42.65,"lo":13.93,"hi":14.1},
{"from":39.15,"to":39.7,"lo":14.42,"hi":14.51},{"from":39.5,"to":39.95,"lo":14.33,"hi":14.42},{"from":40,"to":40.45,"lo":14.22,"hi":14.33},{"from":40.35,"to":40.95,"lo":14.1,"hi":14.22},{"from":40.95,"to":41.3,"lo":13.93,"hi":14.03},
{"from":38.57,"to":39.4,"lo":14.12,"hi":14.22},{"from":39.05,"to":40,"lo":13.99,"hi":14.12},{"from":39.65,"to":40.6,"lo":13.82,"hi":13.99},{"from":40.3,"to":41.1,"lo":13.7,"hi":13.82},{"from":41.1,"to":42,"lo":13.6,"hi":13.7},{"from":41.9,"to":42.94,"lo":13.41,"hi":13.6},
{"from":41.4,"to":44,"lo":14.63,"hi":14.7},{"from":42.4,"to":42.85,"lo":14.7,"hi":14.82},{"from":43.2,"to":43.65,"lo":14.7,"hi":14.82},{"from":37.15,"to":37.45,"lo":14.53,"hi":14.63}
]
},
"bounds":"flush",
"spacing":752,
"vconcat":[
{"bounds":"flush","spacing":23,"hconcat":[
{"width":340,"height":627,"data":{"name":"phase1"},"resolve":{"axis":{"x":"independent","y":"independent"}},"layer":[
{"mark":{"type":"area","interpolate":"monotone","clip":true},"encoding":{
"x":{"field":"year","type":"quantitative","scale":{"domain":[1,15],"nice":false,"zero":false},"axis":{"orient":"bottom","values":[2,4,6,8,10,12,14],"tickSize":-12,"labelPadding":29,"title":"Phase 1","titlePadding":11}},
"y":{"field":"hi","type":"quantitative","scale":{"domain":[9,22],"nice":false,"zero":false},"axis":{"orient":"left","values":[10,12,14,16,18,20,22],"tickSize":-22,"labelPadding":29,"title":"Global Mean Temperature (Celsius)","titlePadding":13}},
"y2":{"field":"lo"},
"color":{"field":"level","type":"ordinal","legend":null,"scale":{"domain":[0,0.5,1,1.5,2,2.5,3,3.5,4,4.5,5,5.5,6,6.5],"range":["#00008a","#0000bb","#0040f0","#00b0ff","#00ebff","#00ffc8","#20ff70","#98ff20","#e0ff00","#fff000","#ffc800","#ffa800","#ff6800","#ff0000"]}}}},
{"mark":{"type":"point","opacity":0},"encoding":{"x":{"field":"year","type":"quantitative","axis":{"orient":"bottom","values":[1.5,2.5,3,3.5,4.5,5,5.5,6.5,7,7.5,8.5,9,9.5,10.5,11,11.5,12.5,13,13.5,14.5,15],"tickSize":-7,"labels":false,"domain":false,"title":null}},"y":{"field":"hi","type":"quantitative","axis":{"orient":"left","values":[9.5,10.5,11,11.5,12.5,13,13.5,14.5,15,15.5,16.5,17,17.5,18.5,19,19.5,20.5,21,21.5],"tickSize":-11,"labels":false,"domain":false,"title":null}}}},
{"mark":{"type":"point","opacity":0},"encoding":{"x":{"field":"year","type":"quantitative","axis":{"orient":"top","values":[2,4,6,8,10,12,14],"tickSize":-12,"labels":false,"title":null}},"y":{"field":"hi","type":"quantitative","axis":null}}},
{"mark":{"type":"point","opacity":0},"encoding":{"x":{"field":"year","type":"quantitative","axis":{"orient":"top","values":[1.5,2.5,3,3.5,4.5,5,5.5,6.5,7,7.5,8.5,9,9.5,10.5,11,11.5,12.5,13,13.5,14.5,15],"tickSize":-7,"labels":false,"domain":false,"title":null}},"y":{"field":"hi","type":"quantitative","axis":null}}}
]},
{"width":340,"height":627,"data":{"name":"phase2"},"resolve":{"axis":{"x":"independent"}},"layer":[
{"mark":{"type":"area","interpolate":"monotone","clip":true},"encoding":{
"x":{"field":"year","type":"quantitative","scale":{"domain":[15,30],"nice":false,"zero":false},"axis":{"orient":"bottom","values":[16,18,20,22,24,26,28,30],"tickSize":-12,"labelPadding":29,"title":["Phase 2","Year of simulation"],"titlePadding":11,"titleLineHeight":25}},
"y":{"field":"hi","type":"quantitative","scale":{"domain":[9,22],"nice":false,"zero":false},"axis":null},
"y2":{"field":"lo"},
"color":{"field":"level","type":"ordinal","legend":null,"scale":{"domain":[0,0.5,1,1.5,2,2.5,3,3.5,4,4.5,5,5.5,6,6.5],"range":["#00008a","#0000bb","#0040f0","#00b0ff","#00ebff","#00ffc8","#20ff70","#98ff20","#e0ff00","#fff000","#ffc800","#ffa800","#ff6800","#ff0000"]}}}},
{"mark":{"type":"point","opacity":0},"encoding":{"x":{"field":"year","type":"quantitative","axis":{"orient":"bottom","values":[15,15.5,16.5,17,17.5,18.5,19,19.5,20.5,21,21.5,22.5,23,23.5,24.5,25,25.5,26.5,27,27.5,28.5,29,29.5],"tickSize":-7,"labels":false,"domain":false,"title":null}},"y":{"field":"hi","type":"quantitative","axis":null}}},
{"mark":{"type":"point","opacity":0},"encoding":{"x":{"field":"year","type":"quantitative","axis":{"orient":"top","values":[16,18,20,22,24,26,28,30],"tickSize":-12,"labels":false,"title":null}},"y":{"field":"hi","type":"quantitative","axis":null}}},
{"mark":{"type":"point","opacity":0},"encoding":{"x":{"field":"year","type":"quantitative","axis":{"orient":"top","values":[15,15.5,16.5,17,17.5,18.5,19,19.5,20.5,21,21.5,22.5,23,23.5,24.5,25,25.5,26.5,27,27.5,28.5,29,29.5],"tickSize":-7,"labels":false,"domain":false,"title":null}},"y":{"field":"hi","type":"quantitative","axis":null}}}
]},
{"width":340,"height":627,"resolve":{"axis":{"x":"independent","y":"independent"}},"layer":[
{"data":{"name":"phase3"},"mark":{"type":"area","interpolate":"monotone","clip":true},"encoding":{
"x":{"field":"year","type":"quantitative","scale":{"domain":[30,45],"nice":false,"zero":false},"axis":{"orient":"bottom","values":[30,32,34,36,38,40,42,44],"tickSize":-12,"labelPadding":29,"title":"Phase 3","titlePadding":11}},
"y":{"field":"hi","type":"quantitative","scale":{"domain":[9,22],"nice":false,"zero":false},"axis":{"orient":"right","values":[10,12,14,16,18,20,22],"tickSize":-22,"labelPadding":26,"title":null}},
"y2":{"field":"lo"},
"color":{"field":"level","type":"ordinal","legend":null,"scale":{"domain":[0,0.5,1,1.5,2,2.5,3,3.5,4,4.5,5,5.5,6,6.5],"range":["#00008a","#0000bb","#0040f0","#00b0ff","#00ebff","#00ffc8","#20ff70","#98ff20","#e0ff00","#fff000","#ffc800","#ffa800","#ff6800","#ff0000"]}}}},
{"data":{"name":"streaks"},"mark":{"type":"area","interpolate":"monotone","clip":true},"encoding":{
"x":{"field":"year","type":"quantitative","axis":{"orient":"bottom","values":[30.5,31,31.5,32.5,33,33.5,34.5,35,35.5,36.5,37,37.5,38.5,39,39.5,40.5,41,41.5,42.5,43,43.5,44.5,45],"tickSize":-7,"labels":false,"domain":false,"title":null}},
"y":{"field":"hi","type":"quantitative","axis":{"orient":"right","values":[9.5,10.5,11,11.5,12.5,13,13.5,14.5,15,15.5,16.5,17,17.5,18.5,19,19.5,20.5,21,21.5],"tickSize":-11,"labels":false,"domain":false,"title":null}},
"y2":{"field":"lo"},
"detail":{"field":"streak"},
"color":{"field":"level","type":"ordinal","legend":null}}},
{"data":{"name":"gaps"},"mark":{"type":"rect","color":"white","clip":true},"encoding":{
"x":{"field":"from","type":"quantitative","axis":{"orient":"top","values":[30,32,34,36,38,40,42,44],"tickSize":-12,"labels":false,"title":null}},
"x2":{"field":"to"},
"y":{"field":"hi","type":"quantitative","axis":null},
"y2":{"field":"lo"}}},
{"data":{"name":"gaps"},"mark":{"type":"point","opacity":0},"encoding":{
"x":{"field":"from","type":"quantitative","axis":{"orient":"top","values":[30.5,31,31.5,32.5,33,33.5,34.5,35,35.5,36.5,37,37.5,38.5,39,39.5,40.5,41,41.5,42.5,43,43.5,44.5,45],"tickSize":-7,"labels":false,"domain":false,"title":null}},
"y":{"field":"hi","type":"quantitative","axis":null}}}
]}
]},
{"width":1066,"height":48,"data":{"name":"colors"},"mark":{"type":"rect"},"encoding":{
"x":{"field":"level","type":"quantitative","scale":{"domain":[0,7],"nice":false,"zero":false},"axis":{"orient":"bottom","values":[0,1.5,3,4.5,6],"format":".1f","ticks":false,"domain":false,"labelPadding":11,"title":"Percent of model versions per 0.1 degrees C (based on initial-condition ensemble means)","titleX":521,"titlePadding":7,"titleFontSize":19.5}},
"x2":{"field":"next"},
"color":{"field":"level","type":"ordinal","legend":null,"scale":{"domain":[0,0.5,1,1.5,2,2.5,3,3.5,4,4.5,5,5.5,6,6.5],"range":["#00008a","#0000bb","#0040f0","#00b0ff","#00ebff","#00ffc8","#20ff70","#98ff20","#e0ff00","#fff000","#ffc800","#ffa800","#ff6800","#ff0000"]}}}}
]
}
